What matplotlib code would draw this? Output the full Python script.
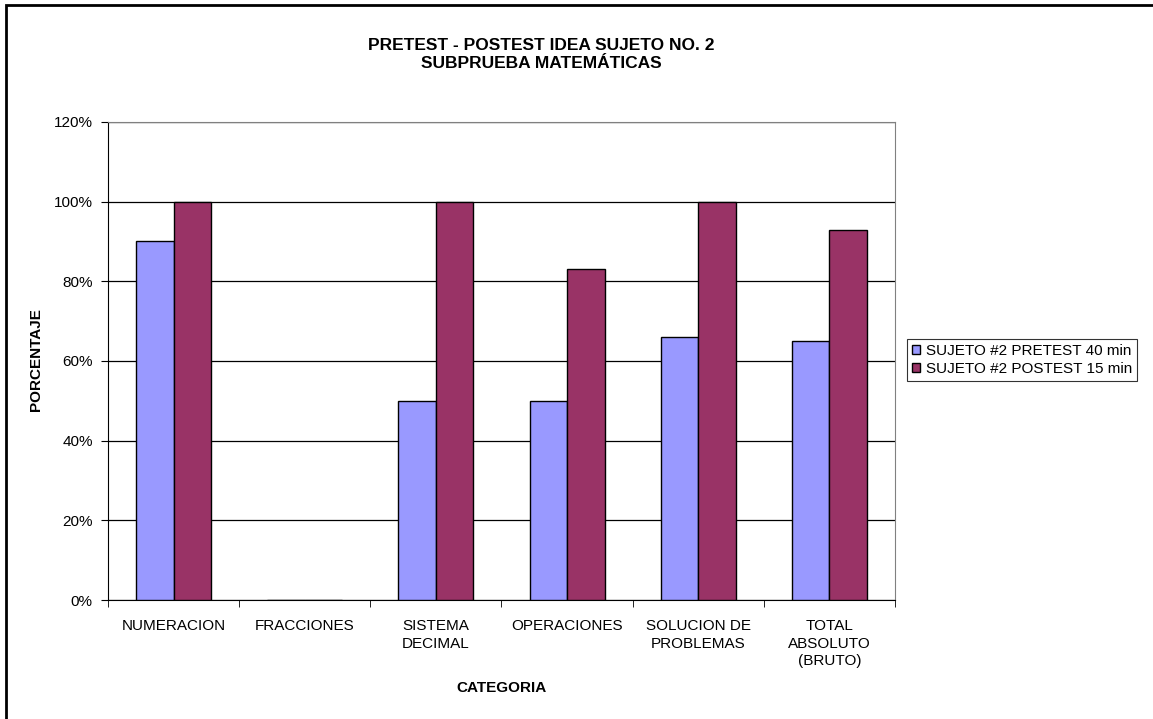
import numpy as np
import matplotlib.pyplot as plt
from matplotlib.patches import Rectangle
from matplotlib.ticker import FuncFormatter, FixedLocator

plt.rcParams['font.family'] = ['Liberation Sans', 'DejaVu Sans']

# Datos de la subprueba
categorias = ["NUMERACION", "FRACCIONES", "SISTEMA\nDECIMAL", "OPERACIONES",
              "SOLUCION DE\nPROBLEMAS", "TOTAL\nABSOLUTO\n(BRUTO)"]
pretest = [90, 0, 50, 50, 66, 65]
postest = [100, 0, 100, 83, 100, 93]
series = ["SUJETO #2 PRETEST 40 min", "SUJETO #2 POSTEST 15 min"]

W, H = 1153, 719
fig = plt.figure(figsize=(W / 100, H / 100), dpi=100)
ax = fig.add_axes([108 / W, 1 - 600 / H, 787 / W, 478 / H])

x = np.arange(len(categorias))
w = 1 / 3.5
ax.bar(x - w / 2, pretest, w, color="#9999FF", edgecolor="black", linewidth=1, label=series[0], zorder=3)
ax.bar(x + w / 2, postest, w, color="#993366", edgecolor="black", linewidth=1, label=series[1], zorder=3)

ax.set_xlim(-0.5, len(categorias) - 0.5)
ax.set_ylim(0, 120)
ax.set_yticks(np.arange(0, 121, 20))
ax.yaxis.set_major_formatter(FuncFormatter(lambda v, p: f"{v:.0f}%"))
ax.yaxis.grid(True, color="black", linewidth=0.9, zorder=0)

# etiquetas centradas, marcas entre categorias
ax.set_xticks(x)
ax.set_xticklabels(categorias, fontsize=11, linespacing=1.3)
ax.tick_params(axis="x", length=0, pad=14)
ax.xaxis.set_minor_locator(FixedLocator(np.arange(-0.5, len(categorias), 1)))
ax.tick_params(axis="x", which="minor", length=5, color="black")
ax.tick_params(axis="y", length=5, labelsize=11, color="black", pad=6)

for s in ["top", "right"]:
    ax.spines[s].set_color("#808080")
for s in ["left", "bottom"]:
    ax.spines[s].set_color("black")

ax.set_ylabel("PORCENTAJE", fontsize=11, fontweight="bold")
ax.yaxis.set_label_coords(43 / W, 0.5, transform=fig.transFigure)
ax.set_xlabel("CATEGORIA", fontsize=11, fontweight="bold", va="center")
ax.xaxis.set_label_coords(501.5 / W, 1 - 688 / H, transform=fig.transFigure)

fig.text(541 / W, 1 - 55 / H, "PRETEST - POSTEST IDEA SUJETO NO. 2\nSUBPRUEBA MATEMÁTICAS",
         ha="center", va="center", fontsize=12.5, fontweight="bold", linespacing=1.25)

leg = ax.legend(loc="upper left", bbox_to_anchor=(907 / W, 1 - 339 / H), bbox_transform=fig.transFigure,
                fontsize=11, frameon=True, fancybox=False, edgecolor="black",
                handlelength=0.55, handleheight=0.55, handletextpad=0.4,
                borderpad=0.3, borderaxespad=0, labelspacing=0.3)
leg.get_frame().set_linewidth(0.8)

# marco del area del grafico
fig.patches.append(Rectangle((6 / W, -0.1), 1.2, 1 - 5 / H + 0.1, transform=fig.transFigure,
                             fill=False, edgecolor="black", linewidth=2))

fig.savefig("out.png", dpi=100)
